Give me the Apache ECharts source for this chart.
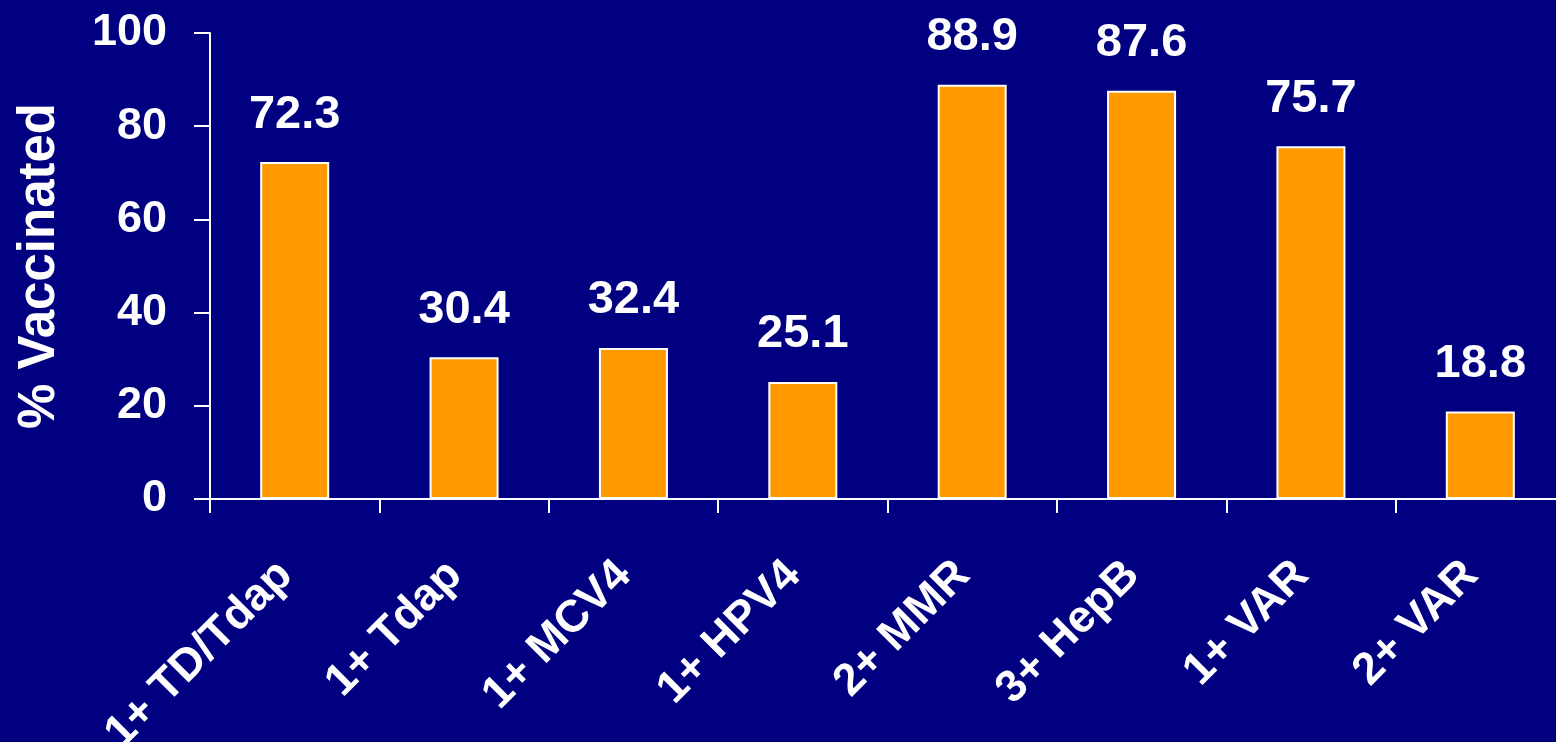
<!DOCTYPE html>
<html>
<head>
<meta charset="utf-8">
<script src="https://cdn.jsdelivr.net/npm/echarts@6/dist/echarts.min.js"></script>
<style>
  html, body { margin: 0; padding: 0; background: #000080; }
  #chart { width: 1556px; height: 742px; }
</style>
</head>
<body>
<div id="chart"></div>
<script>
const categories = ['1+ TD/Tdap', '1+ Tdap', '1+ MCV4', '1+ HPV4', '2+ MMR', '3+ HepB', '1+ VAR', '2+ VAR'];
const values = [72.3, 30.4, 32.4, 25.1, 88.9, 87.6, 75.7, 18.8];
const yTicks = [0, 20, 40, 60, 80, 100];
const yTitle = '% Vaccinated';

const font = "'Liberation Sans', Arial, sans-serif";
const chart = echarts.init(document.getElementById('chart'), null, { renderer: 'canvas' });
chart.setOption({
  backgroundColor: '#000080',
  animation: false,
  grid: { left: 210, top: 33, width: 1355, bottom: 243, containLabel: false, outerBoundsMode: 'none' },
  xAxis: {
    type: 'category',
    data: categories,
    boundaryGap: true,
    axisLine: { lineStyle: { color: '#ffffff', width: 2 } },
    axisTick: { show: true, length: 14, lineStyle: { color: '#ffffff', width: 2 } },
    axisLabel: {
      rotate: 45, margin: 60, color: '#ffffff', padding: [0, 13, 0, 0],
      fontFamily: font, fontWeight: 'bold', fontSize: 45, interval: 0
    },
    splitLine: { show: false }
  },
  yAxis: {
    type: 'value',
    min: yTicks[0], max: yTicks[yTicks.length - 1], interval: 20,
    name: yTitle,
    nameLocation: 'middle',
    nameGap: 145,
    nameRotate: 90,
    nameTextStyle: { color: '#ffffff', fontFamily: font, fontWeight: 'bold', fontSize: 51 },
    axisLine: { show: true, lineStyle: { color: '#ffffff', width: 2 } },
    axisTick: { show: true, length: 16, lineStyle: { color: '#ffffff', width: 2 } },
    axisLabel: { color: '#ffffff', fontFamily: font, fontWeight: 'bold', fontSize: 45, margin: 43 },
    splitLine: { show: false }
  },
  series: [{
    type: 'bar',
    data: values,
    barWidth: 69,
    itemStyle: { color: '#FF9900', borderColor: '#ffffff', borderWidth: 2 },
    label: {
      show: true, position: 'top', distance: 24, color: '#ffffff',
      fontFamily: font, fontWeight: 'bold', fontSize: 47,
      formatter: p => p.value.toFixed(1)
    }
  }]
});
</script>
</body>
</html>
